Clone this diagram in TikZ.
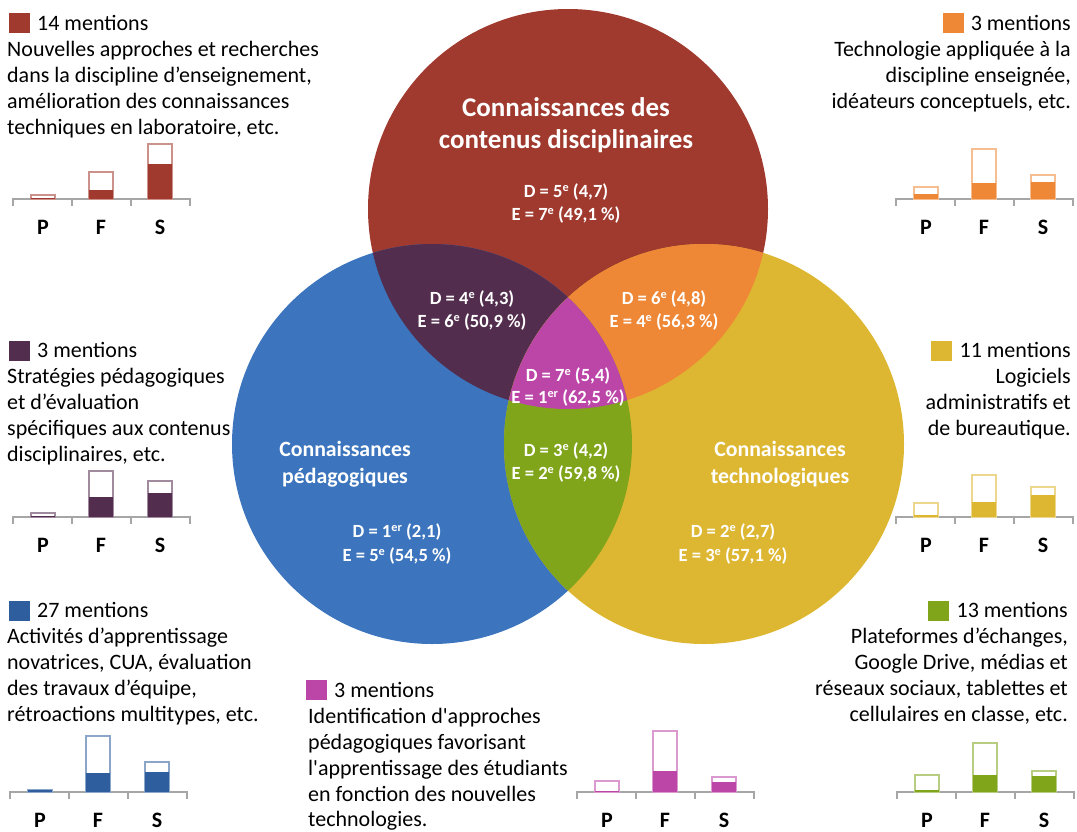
\documentclass[tikz,border=0pt]{standalone}
\usepackage{fontspec}
\setmainfont{Carlito}
\definecolor{cred}{RGB}{160,57,46}
\definecolor{cpurple}{RGB}{83,45,78}
\definecolor{corange}{RGB}{238,135,54}
\definecolor{cblue}{RGB}{60,117,189}
\definecolor{cbblue}{RGB}{46,94,158}
\definecolor{cyellow}{RGB}{222,183,50}
\definecolor{cgreen}{RGB}{128,165,27}
\definecolor{cmagenta}{RGB}{188,70,168}
\tikzset{
 txt/.style={font=\fontsize{22}{26}\selectfont, inner sep=0pt, text=black},
 ttl/.style={font=\fontsize{27}{32}\selectfont\bfseries, text=white, inner sep=0pt, anchor=base},
 sub/.style={font=\fontsize{21.8}{27}\selectfont\bfseries, text=white, inner sep=0pt, anchor=base},
 val/.style={font=\fontsize{18.6}{23}\selectfont\bfseries, text=white, inner sep=0pt, anchor=base},
 axisline/.style={draw=black!35, line width=1.3pt},
 catlab/.style={font=\fontsize{22}{25}\selectfont\bfseries, inner sep=0pt, anchor=base},
}
\newcommand\ex[1]{\raisebox{0.3em}{\scalebox{0.66}{#1}}}
\newcommand\mybar[5]{%
  \filldraw[draw=#3!55, fill=white, line width=1.3pt] (#1,#2) rectangle ++(24,-#4);
  \fill[#3] (#1,#2) rectangle ++(24,-#5);
}
\newcommand\mychart[9]{%
  \draw[axisline] (#1,#2+7) -- (#1,#2) -- (#1+177,#2) -- (#1+177,#2+7);
  \draw[axisline] (#1+59,#2) -- (#1+59,#2+7) (#1+118,#2) -- (#1+118,#2+7);
  \mybar{#1+18}{#2}{#3}{#4}{#5}
  \mybar{#1+76}{#2}{#3}{#6}{#7}
  \mybar{#1+135}{#2}{#3}{#8}{#9}
  \node[catlab] (#3-P) at (#1+30,#2+35) {P};
  \node[catlab] (#3-F) at (#1+88,#2+35) {F};
  \node[catlab] (#3-S) at (#1+147,#2+35) {S};
}
\newcommand\legsq[2]{%
  \fill[#2] ([xshift=-7pt,yshift=-3pt]#1.base west) rectangle ++(-21,-20);
}
\begin{document}
\begin{tikzpicture}[x=1pt,y=-1pt]
\useasboundingbox (0,0) rectangle (1077,831);
% circles
\fill[cred] (568,209) circle (200);
\fill[cblue] (432,444) circle (200);
\fill[cyellow] (704,444) circle (200);
\begin{scope}
  \clip (568,209) circle (200);
  \fill[cpurple] (432,444) circle (200);
  \fill[corange] (704,444) circle (200);
\end{scope}
\begin{scope}
  \clip (432,444) circle (200);
  \fill[cgreen] (704,444) circle (200);
  \clip (704,444) circle (200);
  \fill[cmagenta] (568,209) circle (200);
\end{scope}
% circle labels
\node[ttl] (t1) at (566,116) {Connaissances des};
\node[ttl] (t2) at (566,148) {contenus disciplinaires};
\node[val] (rd) at (566,197) {D = 5\ex{e} (4,7)};
\node[val] (re) at (566,220) {E = 7\ex{e} (49,1 \%)};
\node[val] (pd) at (472,304) {D = 4\ex{e} (4,3)};
\node[val] (pe) at (472,327) {E = 6\ex{e} (50,9 \%)};
\node[val] (od) at (664,304) {D = 6\ex{e} (4,8)};
\node[val] (oe) at (664,327) {E = 4\ex{e} (56,3 \%)};
\node[val] (md) at (568,381) {D = 7\ex{e} (5,4)};
\node[val] (me) at (568,403) {E = 1\ex{er} (62,5 \%)};
\node[val] (gd) at (566,456) {D = 3\ex{e} (4,2)};
\node[val] (ge) at (566,479) {E = 2\ex{e} (59,8 \%)};
\node[sub] (b1) at (345,456) {Connaissances};
\node[sub] (b2) at (345,483) {pédagogiques};
\node[val] (bd) at (397,537) {D = 1\ex{er} (2,1)};
\node[val] (be) at (397,561) {E = 5\ex{e} (54,5 \%)};
\node[sub] (y1) at (780,456) {Connaissances};
\node[sub] (y2) at (780,483) {technologiques};
\node[val] (yd) at (733,537) {D = 2\ex{e} (2,7)};
\node[val] (ye) at (733,561) {E = 3\ex{e} (57,1 \%)};
% top-left legend
\node[txt, anchor=base west] (tlh) at (37,30) {14 mentions};
\legsq{tlh}{cred}
\node[txt, anchor=base west] (tl1) at (7,56) {Nouvelles approches et recherches};
\node[txt, anchor=base west] (tl2) at (7,82) {dans la discipline d’enseignement,};
\node[txt, anchor=base west] (tl3) at (7,108) {amélioration des connaissances};
\node[txt, anchor=base west] (tl4) at (7,134) {techniques en laboratoire, etc.};
% top-right legend
\node[txt, anchor=base east] (trh) at (1071,30) {3 mentions};
\legsq{trh}{corange}
\node[txt, anchor=base east] (tr1) at (1071,56) {Technologie appliquée à la};
\node[txt, anchor=base east] (tr2) at (1071,82) {discipline enseignée,};
\node[txt, anchor=base east] (tr3) at (1071,108) {idéateurs conceptuels, etc.};
% left-middle legend
\node[txt, anchor=base west] (lmh) at (37,357.5) {3 mentions};
\legsq{lmh}{cpurple}
\node[txt, anchor=base west] (lm1) at (7,383.5) {Stratégies pédagogiques};
\node[txt, anchor=base west] (lm2) at (7,409.5) {et d’évaluation};
\node[txt, anchor=base west] (lm3) at (7,435.5) {spécifiques aux contenus};
\node[txt, anchor=base west] (lm4) at (7,461.5) {disciplinaires, etc.};
% right-middle legend
\node[txt, anchor=base east] (rmh) at (1071,357.5) {11 mentions};
\legsq{rmh}{cyellow}
\node[txt, anchor=base east] (rm1) at (1071,383.5) {Logiciels};
\node[txt, anchor=base east] (rm2) at (1071,409.5) {administratifs et};
\node[txt, anchor=base east] (rm3) at (1071,435.5) {de bureautique.};
% bottom-left legend
\node[txt, anchor=base west] (blh) at (37,617.5) {27 mentions};
\legsq{blh}{cbblue}
\node[txt, anchor=base west] (bl1) at (7,643.5) {Activités d’apprentissage};
\node[txt, anchor=base west] (bl2) at (7,669.5) {novatrices, CUA, évaluation};
\node[txt, anchor=base west] (bl3) at (7,695.5) {des travaux d’équipe,};
\node[txt, anchor=base west] (bl4) at (7,721.5) {rétroactions multitypes, etc.};
% bottom-right legend
\node[txt, anchor=base east] (brh) at (1068,617.5) {13 mentions};
\legsq{brh}{cgreen}
\node[txt, anchor=base east] (br1) at (1068,643.5) {Plateformes d’échanges,};
\node[txt, anchor=base east] (br2) at (1068,669.5) {Google Drive, médias et};
\node[txt, anchor=base east] (br3) at (1068,695.5) {réseaux sociaux, tablettes et};
\node[txt, anchor=base east] (br4) at (1068,721.5) {cellulaires en classe, etc.};
% bottom-middle legend
\node[txt, anchor=base west] (bmh) at (334,697) {3 mentions};
\legsq{bmh}{cmagenta}
\node[txt, anchor=base west] (bm1) at (308,723) {Identification d\textquotesingle approches};
\node[txt, anchor=base west] (bm2) at (308,749) {pédagogiques favorisant};
\node[txt, anchor=base west] (bm3) at (308,775) {l\textquotesingle apprentissage des étudiants};
\node[txt, anchor=base west] (bm4) at (308,801) {en fonction des nouvelles};
\node[txt, anchor=base west] (bm5) at (308,826) {technologies.};
% charts
\mychart{13}{199}{cred}{4}{1}{27}{9}{55}{35}
\mychart{896}{199}{corange}{12}{5}{50}{16}{24}{17}
\mychart{13}{517}{cpurple}{4}{1}{46}{20}{36}{24}
\mychart{896}{517}{cyellow}{14}{2}{42}{15}{30}{22}
\mychart{10}{792}{cbblue}{2}{2}{56}{19}{30}{20}
\mychart{577}{792}{cmagenta}{11}{1}{61}{21}{15}{10}
\mychart{897}{792}{cgreen}{17}{2}{49}{17}{21}{16}
\end{tikzpicture}
\end{document}
